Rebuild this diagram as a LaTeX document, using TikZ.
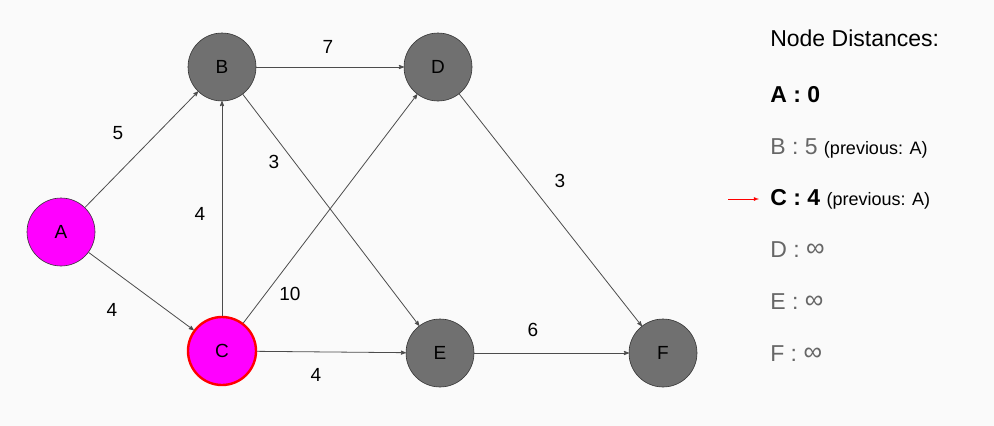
\documentclass[tikz,border=0pt]{standalone}
\usepackage{fontspec}
\setmainfont{Liberation Sans}
\usepackage{tikz}
\usetikzlibrary{arrows}

\definecolor{bgcol}{HTML}{FAFAFA}
\definecolor{nodegray}{HTML}{707070}
\definecolor{txtgray}{HTML}{666666}
\definecolor{pink}{HTML}{FF00FF}

\begin{document}
\begin{tikzpicture}[x=1pt,y=-1pt,>=stealth',semithick,
                    vertex/.style={circle,draw=black!80,fill=nodegray,minimum size=68pt,inner sep=0pt,font=\fontsize{19}{19}\selectfont},
                    visited/.style={vertex,fill=pink},
                    current/.style={visited,draw=red,line width=2.4pt},
                    conn/.style={->,draw=black!70,line width=0.8pt},
                    weight/.style={font=\fontsize{19}{19}\selectfont},
                    entry/.style={anchor=west,inner sep=0pt,font=\fontsize{23}{23}\selectfont}]

  \fill[bgcol] (0,0) rectangle (994,426);
  \useasboundingbox (0,0) rectangle (994,426);

  \node[visited]       (A) at (61,232)  {A};
  \node[vertex]        (B) at (222,67)  {B};
  \node[vertex]        (D) at (438,67)  {D};
  \node[current]       (C) at (222,351) {C};
  \node[vertex]        (E) at (440,353) {E};
  \node[vertex]        (F) at (663,353) {F};

  \path (A) edge[conn] (B)
            edge[conn] (C)
        (B) edge[conn] (D)
            edge[conn] (E)
        (C) edge[conn] (B)
            edge[conn] (D)
            edge[conn] (E)
        (D) edge[conn] (F)
        (E) edge[conn] (F);

  \node[weight] (wab) at (118,133) {5};
  \node[weight] (wac) at (112,310) {4};
  \node[weight] (wbd) at (328,47)  {7};
  \node[weight] (wbe) at (274,162) {3};
  \node[weight] (wcb) at (200,214) {4};
  \node[weight] (wcd) at (290,294) {10};
  \node[weight] (wce) at (316,375) {4};
  \node[weight] (wef) at (533,330) {6};
  \node[weight] (wdf) at (560,181) {3};

  % legend
  \node[entry] (title) at (770,38)  {Node Distances:};
  \node[entry] (dA)    at (770,95)  {\textbf{A : 0}};
  \node[entry] (dB)    at (770,148) {\textcolor{txtgray}{B : 5} \fontsize{18}{18}\selectfont(previous: A)};
  \node[entry] (dC)    at (770,199) {\textbf{C : 4} \fontsize{18}{18}\selectfont(previous: A)};
  \node[entry,txtgray] (dD) at (770,250) {D : \raisebox{1pt}{\fontsize{26}{26}\selectfont∞}};
  \node[entry,txtgray] (dE) at (770,302) {E : \raisebox{1pt}{\fontsize{26}{26}\selectfont∞}};
  \node[entry,txtgray] (dF) at (770,354) {F : \raisebox{1pt}{\fontsize{26}{26}\selectfont∞}};
  \coordinate (arrtail) at (728,199);
  \coordinate (arrhead) at (759,199);
  \draw[-latex,red,line width=0.8pt] (arrtail) -- (arrhead);
\end{tikzpicture}
\end{document}
